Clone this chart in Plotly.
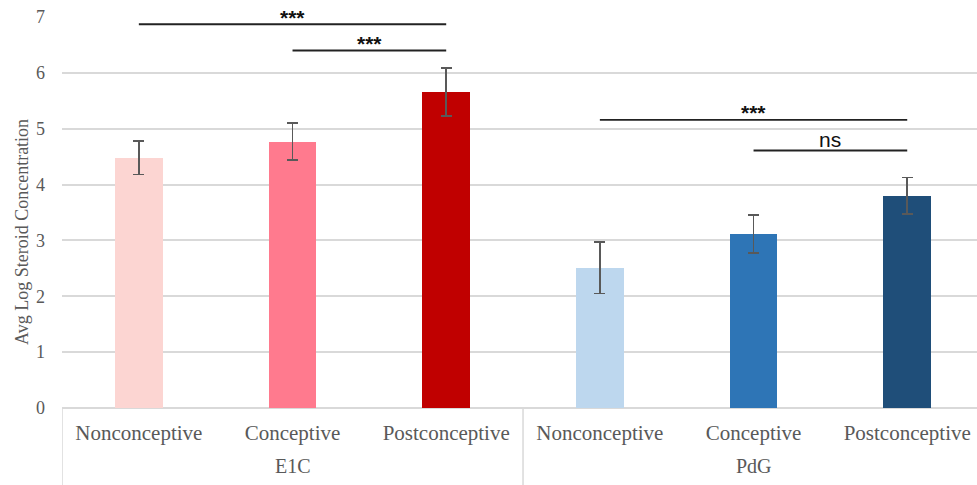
import plotly.graph_objects as go

# ---- data ----
subcategories = ["Nonconceptive", "Conceptive", "Postconceptive",
                 "Nonconceptive", "Conceptive", "Postconceptive"]
groups = ["E1C", "PdG"]
values = [4.48, 4.77, 5.66, 2.51, 3.11, 3.80]
errors = [0.30, 0.33, 0.43, 0.46, 0.34, 0.33]
bar_colors = ["#FCD5D2", "#FF7A8E", "#C00000", "#BDD7EE", "#2E75B6", "#1F4E79"]
y_title = "Avg Log Steroid Concentration"

# significance brackets: (start index, end index, y level, label, label x)
sig_lines = [
    (0, 2, 6.87, "***", 1.0),
    (1, 2, 6.40, "***", 1.5),
    (3, 5, 5.16, "***", 4.0),
    (4, 5, 4.61, "ns", 4.5),
]

x_idx = list(range(len(values)))

fig = go.Figure()
fig.add_trace(go.Bar(
    x=x_idx, y=values, width=0.31,
    marker=dict(color=bar_colors, line=dict(width=0)),
    error_y=dict(type="data", array=errors, visible=True,
                 color="#595959", thickness=1.6, width=5.5),
    showlegend=False,
))

serif = "Liberation Serif, Times New Roman, serif"
sans = "Liberation Sans, Arial, Helvetica, sans-serif"
grey = "#595959"
grid = "#D9D9D9"

shapes = []
annotations = []
for x0, x1, yl, lab, lx in sig_lines:
    shapes.append(dict(type="line", xref="x", yref="y", x0=x0, x1=x1, y0=yl, y1=yl,
                       line=dict(color="#222222", width=1.8)))
    if lab == "ns":
        annotations.append(dict(x=lx, y=yl, xref="x", yref="y", text=lab, showarrow=False,
                                yanchor="middle", yshift=11,
                                font=dict(family=sans, size=21, color="#111111")))
    else:
        annotations.append(dict(x=lx, y=yl, xref="x", yref="y", text="<b>" + lab + "</b>",
                                showarrow=False, yanchor="middle", yshift=7,
                                font=dict(family=sans, size=21, color="#111111")))

# group dividers below the axis
plot_h = 485 - 17 - 77
div_bottom = -77 / plot_h
for xd in [-0.5, 2.5, 5.5]:
    shapes.append(dict(type="line", xref="x", yref="paper", x0=xd, x1=xd, y0=0, y1=div_bottom,
                       line=dict(color=grid, width=1.5)))

for gi, g in enumerate(groups):
    annotations.append(dict(x=1 + 3 * gi, y=-(466 - 408) / plot_h, xref="x", yref="paper",
                            text=g, showarrow=False, yanchor="middle",
                            font=dict(family=serif, size=20, color=grey)))

# y-axis title
annotations.append(dict(x=(22 - 62) / 915, y=(408 - 232) / plot_h, xref="paper", yref="paper",
                        text=y_title, textangle=-90, showarrow=False,
                        xanchor="center", yanchor="middle",
                        font=dict(family=serif, size=18, color=grey)))

fig.update_layout(
    width=977, height=485,
    margin=dict(l=62, r=0, t=17, b=77),
    paper_bgcolor="white", plot_bgcolor="white",
    shapes=shapes, annotations=annotations,
    bargap=0,
)
fig.update_xaxes(
    range=[-0.5, 5.454], tickvals=x_idx, ticktext=subcategories,
    tickfont=dict(family=serif, size=21, color=grey),
    showgrid=False, zeroline=False, showline=False, ticks="",
    ticklabelstandoff=10,
)
fig.update_yaxes(
    range=[0, 7], dtick=1, tick0=0,
    showgrid=True, gridcolor=grid, gridwidth=1.6,
    zeroline=True, zerolinecolor=grid, zerolinewidth=1.6,
    tickfont=dict(family=serif, size=18, color=grey),
    ticklabelstandoff=16,
)

fig.write_html("out.html")
